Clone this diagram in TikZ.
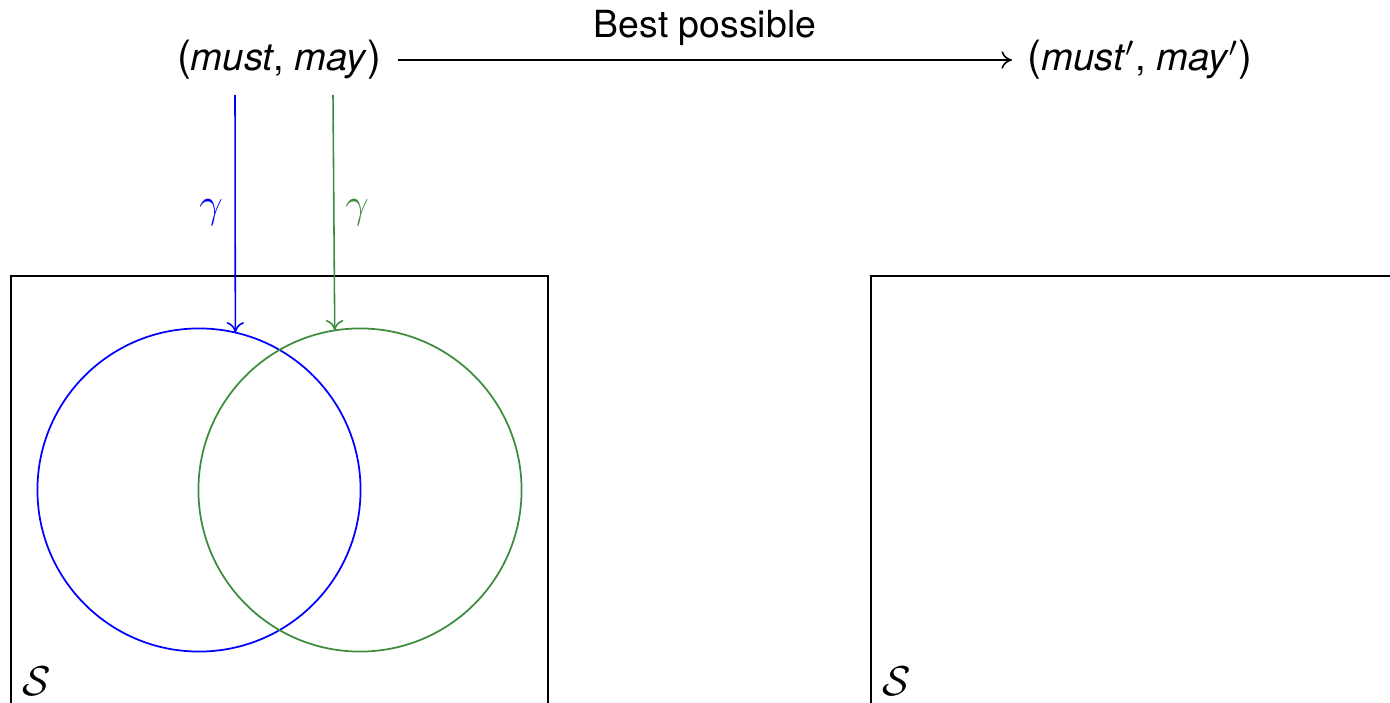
\documentclass[tikz,border=0pt]{standalone}
\usepackage{fontspec}
\setmainfont{TeX Gyre Heros}
\usetikzlibrary{arrows.meta}
\definecolor{myblue}{RGB}{0,0,255}
\definecolor{mygreen}{RGB}{61,140,61}
\newcommand{\bigparl}{{\fontsize{12}{13}\selectfont(}}
\newcommand{\bigparr}{{\fontsize{12}{13}\selectfont)}}
\begin{document}
\begin{tikzpicture}[x=0.2875pt,y=-0.2875pt,
  lbl/.style={inner sep=0pt,font=\fontsize{11}{13}\selectfont},
  blbl/.style={inner sep=0pt,font=\fontsize{10.75}{13}\selectfont},
  frame/.style={draw=black,line width=0.55pt},
  setc/.style={circle,draw,line width=0.5pt,inner sep=0pt,outer sep=0pt,minimum size=92.9pt},
  conn/.style={line width=0.45pt,-{To[length=3pt,width=5pt]}},
  glab/.style={inner sep=0pt,font=\large},
  slab/.style={inner sep=0pt,font=\large}]
\useasboundingbox (0,0) rectangle (1390,703);
\clip (0,0) rectangle (1390,703);
% top nodes
\node[lbl] (A) at (279,60) {\bigparl\textit{must}, \textit{may}\bigparr};
\node[lbl] (B) at (1140,60) {\bigparl\textit{must}$'$, \textit{may}$'$\bigparr};
\draw[conn,shorten <=4.6pt,shorten >=4.3pt] (A.east) -- (B.west);
\node[blbl] (bp) at (705,28) {Best possible};
% boxes
\draw[frame] (11,720) -- (11,276) -- (548,276) -- (548,720);
\draw[frame] (871,720) -- (871,276) -- (1400,276);
\node[slab] (S1) at (37,681) {$\mathcal{S}$};
\node[slab] (S2) at (897,681) {$\mathcal{S}$};
% circles
\node[setc,draw=myblue] (cb) at (199,490) {};
\node[setc,draw=mygreen] (cg) at (360,490) {};
% gamma arrows
\coordinate (gb) at (235,95);
\coordinate (gg) at (333,95);
\draw[conn,draw=myblue] (gb) -- (cb.77);
\draw[conn,draw=mygreen] (gg) -- (cg.99.6);
\node[glab,text=myblue] (lb) at (211,213) {$\gamma$};
\node[glab,text=mygreen] (lg) at (357,213) {$\gamma$};
\end{tikzpicture}
\end{document}
